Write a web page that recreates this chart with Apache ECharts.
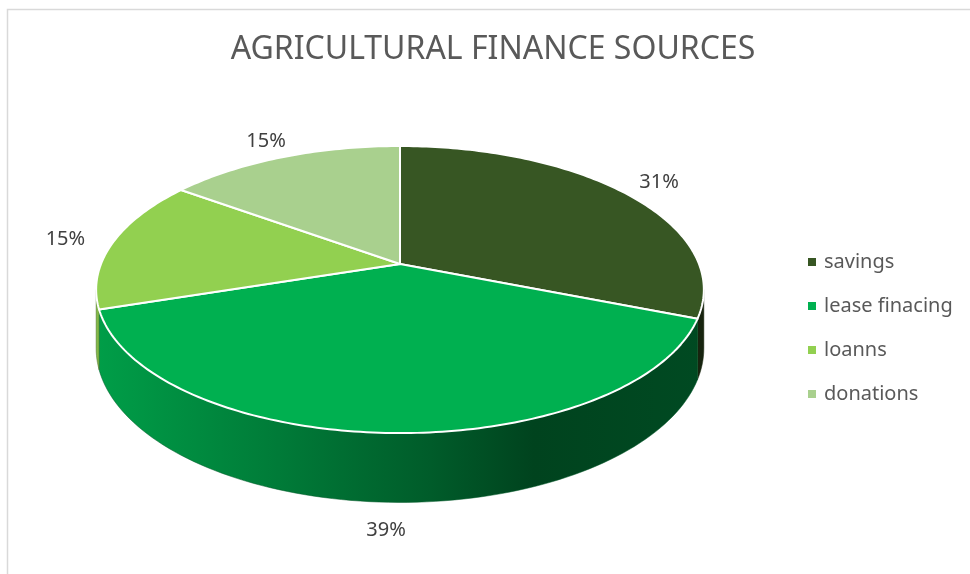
<!DOCTYPE html>
<html>
<head>
<meta charset="utf-8">
<script src="https://cdn.jsdelivr.net/npm/echarts@6/dist/echarts.min.js"></script>
<style>
  html, body { margin: 0; padding: 0; background: #fff; }
  #chart { width: 970px; height: 574px; }
</style>
</head>
<body>
<div id="chart"></div>
<script>
const categories = ["savings", "lease finacing", "loanns", "donations"];
const values = [31, 39, 15, 15];
const colors = ["#375623", "#00b050", "#92d050", "#a9d08e"];

// perspective of the tilted pie
const CX = 400, CY = 264;   // pie centre on screen
const A = 299, B = 139;     // horizontal / depth radius
const K = 0.178;            // perspective strength
const H = 57;               // thickness

const total = values.reduce((s, v) => s + v, 0);
const starts = [];
values.reduce((acc, v, i) => { starts[i] = acc / total; return acc + v; }, 0);

function proj(frac, r, drop) {
  const t = frac * Math.PI * 2;
  const u = r * Math.sin(t), v = -r * Math.cos(t);
  const w = 1 - K * v;
  return [CX + A * u / w, CY + (B * v + (drop || 0)) / w];
}

function shade(hex, f) {
  const n = parseInt(hex.slice(1), 16);
  const c = [(n >> 16) & 255, (n >> 8) & 255, n & 255].map(x => Math.round(x * f));
  return "rgb(" + c.join(",") + ")";
}

// side is visible only where it faces the viewer
const visFrom = Math.acos(-K) / (Math.PI * 2);
const visTo = 1 - visFrom;

function renderSlice(i) {
  return function (params, api) {
    const a = starts[i], b = starts[i] + values[i] / total;
    const children = [];
    const s = Math.max(a, visFrom), e = Math.min(b, visTo);
    if (e > s) {
      const top = [], bot = [];
      const n = Math.max(4, Math.ceil((e - s) * 240));
      for (let k = 0; k <= n; k++) {
        const f = s + (e - s) * k / n;
        top.push(proj(f, 1, 0));
        bot.push(proj(f, 1, H));
      }
      children.push({
        type: "polygon",
        z2: 0,
        shape: { points: top.concat(bot.reverse()) },
        style: {
          fill: new echarts.graphic.LinearGradient(95, 0, 705, 0, [
            { offset: 0, color: shade(colors[i], 0.9) },
            { offset: 0.3, color: shade(colors[i], 0.7) },
            { offset: 0.55, color: shade(colors[i], 0.52) },
            { offset: 0.72, color: shade(colors[i], 0.38) },
            { offset: 1, color: shade(colors[i], 0.42) }
          ], true),
          stroke: shade(colors[i], 0.5),
          lineWidth: 0.5
        }
      });
    }
    const pts = [[CX, CY]];
    const m = Math.max(8, Math.ceil((b - a) * 360));
    for (let k = 0; k <= m; k++) pts.push(proj(a + (b - a) * k / m, 1, 0));
    children.push({
      type: "polygon",
      z2: 10,
      shape: { points: pts },
      style: { fill: colors[i], stroke: "#ffffff", lineWidth: 2, lineJoin: "round" }
    });
    // label outside the slice
    const mid = (a + b) / 2;
    const front = Math.max(0, -Math.cos(mid * Math.PI * 2));
    const lp = proj(mid, 1.17, 0);
    children.push({
      type: "text",
      z2: 20,
      x: lp[0],
      y: lp[1] + (H + 4) * front,
      style: {
        text: Math.round(values[i] / total * 100) + "%",
        fill: "#404040",
        font: "20px 'Noto Sans'",
        align: "center",
        verticalAlign: "middle"
      }
    });
    return { type: "group", children: children };
  };
}

const chart = echarts.init(document.getElementById("chart"));
const option = {
  animation: false,
  title: {
    text: "AGRICULTURAL FINANCE SOURCES",
    left: 488,
    textAlign: "center",
    top: 29,
    textStyle: {
      fontFamily: "Noto Sans",
      fontSize: 32,
      fontWeight: "normal",
      color: "#595959"
    }
  },
  legend: {
    orient: "vertical",
    left: 803,
    top: 245,
    icon: "rect",
    itemWidth: 8,
    itemHeight: 8,
    itemGap: 20,
    data: categories,
    textStyle: {
      fontFamily: "Noto Sans",
      fontSize: 20,
      lineHeight: 24,
      color: "#595959",
      padding: [0, 0, 0, 3]
    }
  },
  graphic: [
    {
      type: "rect",
      shape: { x: 7.5, y: 9.5, width: 1000, height: 1000 },
      style: { fill: "none", stroke: "#d9d9d9", lineWidth: 1.5 },
      silent: true
    }
  ],
  series: categories.map((name, i) => ({
    type: "custom",
    name: name,
    coordinateSystem: "none",
    itemStyle: { color: colors[i] },
    data: [[values[i]]],
    renderItem: renderSlice(i)
  }))
};
chart.setOption(option);
window.addEventListener("resize", chart.resize);
</script>
</body>
</html>
